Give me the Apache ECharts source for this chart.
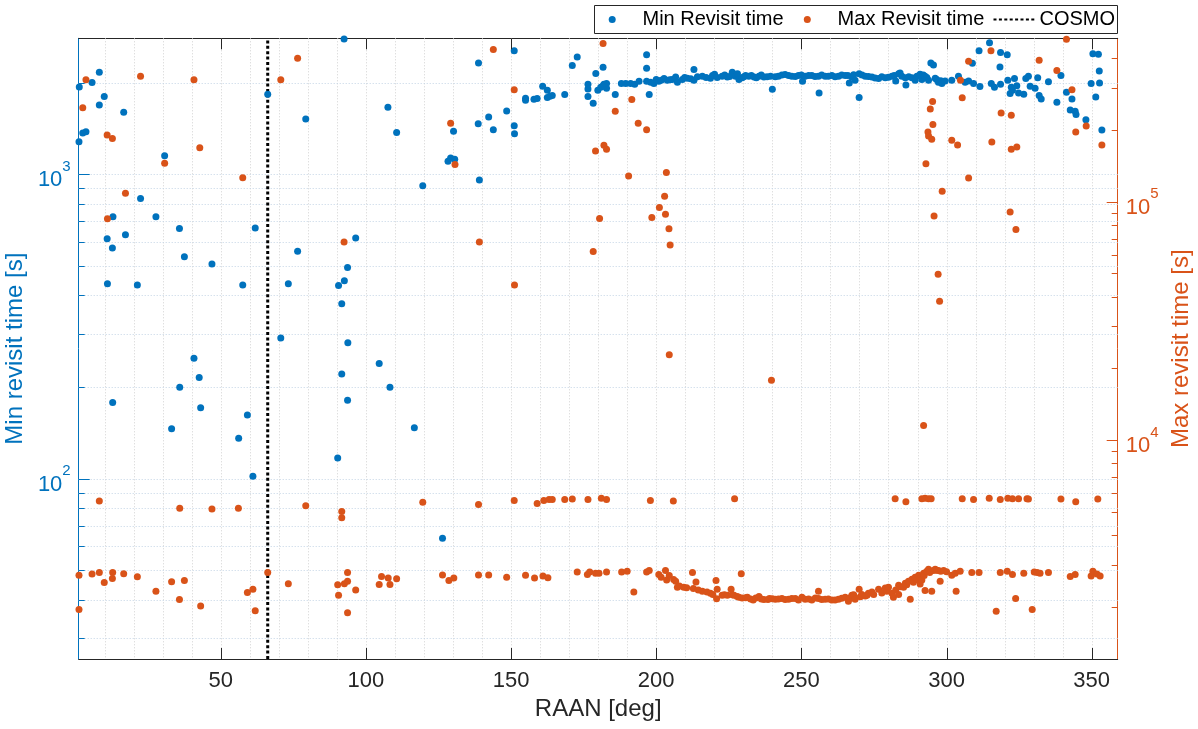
<!DOCTYPE html>
<html><head><meta charset="utf-8">
<script src="https://cdn.jsdelivr.net/npm/echarts@6/dist/echarts.min.js"></script>
<style>html,body{margin:0;padding:0;background:#fff}#c{width:1198px;height:729px}</style>
</head><body><div id="c"></div>
<script>
// ---- data (RAAN [deg], revisit time [s]) ----
const minRevisitPts = [
[1.3,1936],[1.2,1280],[2.5,1368],[3.6,1380],[5.7,2001],[8.2,2164],[8.2,1690],[9.9,1800],[10.9,614],[11.0,437],[12.7,573],[12.8,178],[12.9,725],[16.6,1600],[17.2,633],[21.3,433],[22.4,833],[27.7,725],[30.7,1151],[33.1,146],[35.8,664],[35.9,200],[37.5,536],[40.8,249],[42.6,215],[43.1,171],[47.0,508],[56.2,136],[57.6,433],[59.2,162],[61.1,102],[61.9,666],[66.2,1833],[70.7,290],[73.3,437],[76.5,559],[79.3,1520],[90.3,117],[90.6,431],[91.7,376],[91.7,221],[92.5,2780],[92.6,447],[93.7,494],[93.7,181],[93.8,280],[96.5,618],[104.6,239],[107.6,1659],[108.3,200],[110.6,1372],[116.7,147],[119.6,918],[126.4,63.8],[128.3,1104],[129.2,1131],[130.6,1120],[130.2,1384],[138.7,1466],[138.8,2321],[139.1,958],[142.3,1543],[143.9,1401],[148.5,1615],[151.1,2548],[151.1,1444],[151.2,1359],
[155.0,1779],[155.0,1752],[157.9,1763],[159.0,1774],[160.9,1947],[162.5,1889],[163.4,1805],[164.2,1816],[162.5,1789],[168.5,1827],[171.1,2279],[172.8,2428],[176.5,1977],[176.5,1906],[176.5,1800],[178.3,1710],[179.2,2145],[179.9,1889],[180.9,1930],[181.7,2245],[182.0,1977],[182.9,1989],[182.9,1918],[181.5,1947],[185.9,1827],[188.0,1989],[189.5,1989],[191.2,1989],[192.6,1977],[194.1,2020],[196.7,2020],[196.7,2472],[196.7,2231],[197.6,1827],[198.1,2008],[199.2,1989],[200.0,2050],[200.9,2020],[201.7,2038],[202.7,2062],[203.8,2038],[204.7,2045],[205.5,2050],[206.7,2087],[207.3,2008],[209.0,2050],[209.8,2080],[210.7,2068],[211.9,2060],[213.0,2211],[213.0,2038],[214.2,2090],[215.9,2100],[217.2,2080],[218.7,2068],[219.4,2110],[220.1,2132],[221.0,2081],[222.7,2100],[223.6,2120],[224.5,2088],[225.3,2095],[226.2,2164],[227.3,2100],[228.0,2140],[228.5,2050],[229.6,2075],[230.2,2090],[230.8,2113],[231.9,2100],[232.8,2110],[233.7,2088],[234.5,2075],[235.4,2100],[236.2,2120],[237.1,2088],[238.2,2090],[239.4,2100],[240.0,1901],
[241.0,2090],[242.1,2100],[243.3,2120],[244.4,2126],[245.6,2110],[246.7,2100],[247.9,2095],[249.0,2113],[250.0,2120],[250.4,2020],[251.3,2100],[252.5,2110],[253.6,2113],[254.7,2095],[255.9,2100],[256.1,1849],[257.0,2120],[258.2,2100],[259.3,2100],[260.5,2113],[261.6,2090],[262.8,2100],[263.9,2120],[265.1,2113],[266.0,2110],[266.5,1995],[267.4,2088],[268.0,2125],[268.5,2038],[269.9,2138],[269.9,1789],[270.9,2120],[272.0,2100],[273.1,2095],[274.3,2088],[275.4,2070],[276.6,2062],[277.7,2090],[278.9,2075],[280.0,2085],[281.2,2100],[282.0,2110],[282.5,2026],[283.5,2138],[284.0,2150],[284.6,2100],[285.8,2075],[286.0,1965],[287.0,2090],[288.1,2075],[289.2,2038],[289.8,2100],[290.9,2132],[291.5,2050],[292.0,2120],[292.6,2100],[293.2,2080],[293.8,2038],[294.6,2321],[295.5,2285],[296.1,2068],[296.6,2050],[297.2,2008],[298.0,2030],[298.4,1989],[299.5,2026],
[301.8,2038],[304.1,2100],[306.4,2008],[307.6,2026],[308.9,2314],[309.3,1989],[311.2,2548],[311.5,1942],[314.8,2707],[315.4,1989],[316.5,1930],[318.6,1977],[318.4,2251],[318.6,2510],[320.9,2472],[321.1,2038],[321.9,1844],[322.3,1930],[322.7,1889],[323.4,2062],[324.2,1953],[324.8,1849],[326.6,1833],[327.3,2062],[328.2,2100],[328.8,1947],[330.5,1918],[331.4,2075],[331.9,1816],[332.6,1768],[335.1,2013],[338.0,1726],[339.4,2113],[341.3,1861],[342.6,1625],[343.2,1768],[344.3,1610],[344.6,1572],[348.0,1511],[349.8,1989],[350.4,2488],[352.3,2478],[351.4,1795],[352.6,2184],[352.7,1995],[353.5,1397]
];
const maxRevisitPts = [
[3.6,324800],[22.4,336000],[40.8,324800],[76.5,400000],[70.7,324800],[2.5,248000],[10.9,190700],[12.7,184200],[42.8,168500],[30.7,145000],[57.6,126200],[17.2,108600],[11.0,84800],[92.5,67800],
[143.9,435300],[181.7,461000],[151.1,294800],[129.2,213300],[130.7,143300],[191.6,268800],[185.9,239400],[193.8,213300],[196.7,200500],[179.1,163400],[182.0,172500],[182.9,166000],[190.5,128200],[203.5,132700],[202.9,105300],[201.1,94500],[203.2,88500],[198.5,85800],[180.5,85100],[204.4,77000],[204.8,65800],[139.1,67800],[178.3,61800],[151.2,44700],[204.5,22800],[239.7,17800],
[341.3,480000],[315.3,430000],[307.6,389000],[331.9,392000],[338.0,355000],[304.8,323500],[343.2,294800],[305.4,273000],[318.8,235700],[322.3,230400],[295.2,263600],[294.4,245000],[295.3,210800],[293.6,195900],[293.8,188500],[294.9,182700],[301.8,181300],[303.8,173100],[315.6,177900],[322.3,166000],[324.2,169800],[344.5,195900],[348.1,207600],[353.5,173100],[292.9,144400],[307.6,125700],[298.5,110700],[295.7,87200],[321.9,90600],[323.9,76400],[297.1,49600],[297.6,38200],[292.1,11500],
[8.2,5546],[35.9,5173],[47.0,5134],[56.1,5173],[79.3,5295],[91.7,5016],[91.7,4718],[119.6,5482],[138.8,5356],[151.1,5567],[159.0,5418],[161.3,5567],[163.1,5632],[164.2,5632],[168.5,5632],[171.1,5654],[176.5,5632],[181.1,5697],[182.9,5632],[198.0,5567],[205.9,5546],[227.0,5675],[282.3,5675],[286.0,5504],[291.5,5675],[292.6,5697],[293.8,5675],[294.7,5675],[305.4,5675],[309.3,5632],[314.7,5697],[318.5,5632],[321.1,5697],[322.7,5675],[324.8,5675],[327.7,5675],[328.2,5654],[339.4,5654],[344.5,5504],[352.1,5654],
[1.2,2707],[5.7,2738],[8.2,2781],[12.8,2781],[16.6,2749],[9.9,2525],[12.7,2624],[21.3,2665],[27.7,2320],[33.1,2544],[37.5,2574],[35.8,2139],[43.1,2011],[59.2,2293],[61.1,2365],[61.9,1920],[66.2,2781],[73.3,2496],[90.3,2467],[92.6,2496],[93.7,2781],[93.7,2554],[96.5,2347],[90.6,2232],[93.7,1883],[105.4,2676],[107.7,2635],[110.6,2614],[104.6,2477],[108.3,2477],[1.2,1942],
[126.4,2716],[128.6,2574],[130.3,2635],[138.8,2716],[142.3,2716],[148.5,2655],[155.0,2707],[158.1,2635],[161.0,2686],[162.7,2645],[172.8,2791],[176.3,2726],[177.1,2791],[179.1,2760],[180.3,2760],[182.9,2791],[188.1,2791],[190.0,2813],[192.3,2301],[196.7,2791],[197.6,2835],[200.9,2726],[201.7,2655],[203.2,2835],[203.6,2584],[204.5,2700],[206.0,2600],[206.7,2554],[207.3,2411],[208.0,2440],[209.5,2411],[210.5,2400],[212.5,2781],[212.8,2383],[213.7,2535],[214.5,2350],[215.9,2320],[217.5,2300],[218.7,2276],[219.5,2250],[220.6,2574],[221.0,2365],[220.8,2155],[222.7,2232],[223.5,2240],[224.5,2232],[225.8,2365],[226.2,2240],[226.8,2232],[227.9,2206],[228.5,2190],[229.3,2749],[229.6,2172],[230.8,2180],[231.4,2189],[232.5,2150],[233.4,2130],[234.3,2170],[235.4,2206],[236.2,2150],[237.1,2139],[238.5,2140],[239.0,2160],[240.0,2155],
[241.0,2147],[242.1,2150],[243.3,2163],[244.4,2140],[245.6,2147],[246.7,2160],[247.9,2163],[249.0,2130],[250.2,2188],[251.3,2147],[252.5,2150],[253.6,2130],[254.8,2170],[255.9,2320],[255.9,2163],[257.0,2140],[258.2,2147],[259.3,2150],[260.5,2130],[261.6,2130],[262.8,2147],[263.9,2165],[265.1,2188],[266.2,2106],[266.8,2180],[267.4,2232],[268.0,2240],[268.5,2147],[269.9,2365],[270.3,2200],[270.8,2249],[272.0,2215],[272.6,2230],[273.1,2275],[274.3,2301],[274.9,2250],[276.6,2365],[277.7,2280],[278.9,2393],[279.4,2320],[280.0,2411],[281.2,2275],[281.7,2188],[282.5,2350],[283.5,2458],[283.5,2249],[284.0,2420],[285.2,2411],[285.8,2505],[286.3,2470],[286.9,2554],[287.5,2147],[288.1,2603],[288.6,2530],[289.2,2655],[289.8,2600],[290.4,2707],[290.9,2486],[291.0,2640],[291.5,2584],[292.1,2760],[292.3,2700],[292.6,2337],[293.2,2813],[293.8,2868],[294.2,2780],[294.9,2320],[295.5,2835],[296.1,2868],[296.6,2840],[297.2,2835],[297.8,2554],[298.0,2810],[299.0,2835],[300.0,2800],[301.8,2707],[303.0,2760],[303.3,2320],[304.7,2813],[308.7,2781],[311.2,2781],[317.1,1912],[318.5,2781],[320.9,2813],[322.7,2729],[323.8,2163],[326.6,2760],[329.5,1942],[330.2,2792],[331.2,2781],[332.2,2760],[335.1,2781],[342.6,2676],[344.3,2729],[349.8,2687],[350.4,2813],[351.8,2738],[352.9,2687]
];
const cosmoRaan = 66.2;
const xRange = [1.1, 358.95];
const leftRange = [25.6, 2797];
const rightRange = [1205, 485000];
const xTickValues = [50, 100, 150, 200, 250, 300, 350];
const xGridValues = [10,20,30,40,50,60,70,80,90,100,110,120,130,140,150,160,170,180,190,200,210,220,230,240,250,260,270,280,290,300,310,320,330,340,350];
const leftGridValues = [30,40,50,60,70,80,90,100,200,300,400,500,600,700,800,900,1000,2000];
const leftMajorTicks = [100, 1000];
const leftMinorTicks = [30,40,50,60,70,80,90,200,300,400,500,600,700,800,900,2000];
const rightMajorTicks = [10000, 100000];
const rightMinorTicks = [2000,3000,4000,5000,6000,7000,8000,9000,20000,30000,40000,50000,60000,70000,80000,90000,200000,300000,400000];

// ---- styles ----
const BLUE = '#0072BD', ORANGE = '#D95319', DARK = '#262626';
const FONT = 'Liberation Sans, Arial, Helvetica, sans-serif';

function pow10Label(v) {
  const e = Math.log10(v), r = Math.round(e);
  if (Math.abs(e - r) > 1e-6) return '';
  return '{b|10}{s|' + r + '}';
}
function richFor(color) {
  return {
    b: {fontSize: 22, color: color, fontFamily: FONT, verticalAlign: 'bottom', padding: [12, 0, 0, 0]},
    s: {fontSize: 15, color: color, fontFamily: FONT, verticalAlign: 'bottom', padding: [0, 0, 17, 0]}
  };
}
const px = v => Math.round(v) + 0.5;
const legendText = {fontSize: 20, color: '#000', fontFamily: FONT};
const legendTextShift = {fontSize: 20, color: '#000', fontFamily: FONT, padding: [0, 0, 0, 7]};

const chart = echarts.init(document.getElementById('c'), null, {renderer: 'canvas'});
chart.setOption({
  animation: false,
  backgroundColor: '#fff',
  textStyle: {fontFamily: FONT},
  grid: {left: 78.7, right: 80.3, top: 38.3, bottom: 70, containLabel: false, outerBoundsMode: 'none'},
  graphic: [{
    type: 'rect', z: 3, silent: true,
    shape: {x: 594.5, y: 5.5, width: 523, height: 28},
    style: {fill: '#fff', stroke: DARK, lineWidth: 1}
  }],
  legend: [{
    data: ['Min Revisit time'], left: 608.7, top: 9.5, padding: 0,
    itemWidth: 36.6, itemHeight: 7, textStyle: legendTextShift, z: 10
  }, {
    data: ['Max Revisit time'], left: 803.8, top: 9.5, padding: 0,
    itemWidth: 36.6, itemHeight: 7, textStyle: legendTextShift, z: 10
  }, {
    data: ['COSMO'], left: 992.5, top: 9.5, padding: 0,
    itemWidth: 41, itemHeight: 7, textStyle: legendText, z: 10,
    itemStyle: {opacity: 0}
  }],
  xAxis: [{
    type: 'value', position: 'bottom', min: xRange[0], max: xRange[1], splitNumber: 7,
    axisLine: {show: true, lineStyle: {color: DARK, width: 1}},
    axisTick: {show: false}, splitLine: {show: false},
    axisLabel: {fontSize: 22, color: DARK, margin: 11, showMinLabel: false, showMaxLabel: false,
      formatter: v => (Math.abs(v % 50) < 1e-6 ? String(v) : '')},
    name: 'RAAN [deg]', nameLocation: 'middle', nameGap: 38,
    nameTextStyle: {fontSize: 24, color: DARK}
  }, {
    type: 'value', position: 'top', min: xRange[0], max: xRange[1],
    axisLine: {show: true, lineStyle: {color: DARK, width: 1}},
    axisTick: {show: false}, splitLine: {show: false}, axisLabel: {show: false}
  }],
  yAxis: [{
    type: 'log', logBase: 10, position: 'left', min: leftRange[0], max: leftRange[1],
    axisLine: {show: true, lineStyle: {color: BLUE, width: 1}},
    axisTick: {show: false}, splitLine: {show: false}, minorTick: {show: false},
    axisLabel: {formatter: pow10Label, rich: richFor(BLUE), margin: 8, showMinLabel: false, showMaxLabel: false},
    name: 'Min revisit time [s]', nameLocation: 'middle', nameGap: 46, nameRotate: 90,
    nameTextStyle: {fontSize: 24, color: BLUE}
  }, {
    type: 'log', logBase: 10, position: 'right', min: rightRange[0], max: rightRange[1],
    axisLine: {show: true, lineStyle: {color: ORANGE, width: 1}},
    axisTick: {show: false}, splitLine: {show: false}, minorTick: {show: false},
    axisLabel: {formatter: pow10Label, rich: richFor(ORANGE), margin: 8, showMinLabel: false, showMaxLabel: false},
    name: 'Max revisit time [s]', nameLocation: 'middle', nameGap: 48, nameRotate: 90,
    nameTextStyle: {fontSize: 24, color: ORANGE}
  }],
  series: [
    { // vertical grid lines
      type: 'custom', xAxisIndex: 0, yAxisIndex: 0, silent: true, z: 1,
      data: xGridValues.map(v => [v, leftRange[0]]),
      renderItem: (params, api) => {
        const cs = params.coordSys;
        const x = px(api.coord([api.value(0), api.value(1)])[0]);
        return {type: 'line', shape: {x1: x, y1: cs.y, x2: x, y2: cs.y + cs.height},
          style: {stroke: '#d2d2d2', lineWidth: 1, lineDash: [1, 2]}};
      }
    },
    { // horizontal grid lines (left axis)
      type: 'custom', xAxisIndex: 0, yAxisIndex: 0, silent: true, z: 1,
      data: leftGridValues.map(v => [xRange[0], v]),
      renderItem: (params, api) => {
        const cs = params.coordSys;
        const y = px(api.coord([api.value(0), api.value(1)])[1]);
        return {type: 'line', shape: {x1: cs.x, y1: y, x2: cs.x + cs.width, y2: y},
          style: {stroke: '#c3d4e5', lineWidth: 1, lineDash: [1, 2]}};
      }
    },
    { // x ticks bottom & top (inside)
      type: 'custom', xAxisIndex: 0, yAxisIndex: 0, silent: true, z: 6,
      data: xTickValues.map(v => [v, leftRange[0]]),
      renderItem: (params, api) => {
        const cs = params.coordSys;
        const x = px(api.coord([api.value(0), api.value(1)])[0]);
        const b = cs.y + cs.height, t = cs.y;
        return {type: 'group', children: [
          {type: 'line', shape: {x1: x, y1: b, x2: x, y2: b - 11}, style: {stroke: DARK, lineWidth: 1}},
          {type: 'line', shape: {x1: x, y1: t, x2: x, y2: t + 11}, style: {stroke: DARK, lineWidth: 1}}
        ]};
      }
    },
    { // left axis ticks
      type: 'custom', xAxisIndex: 0, yAxisIndex: 0, silent: true, z: 6,
      data: leftMajorTicks.map(v => [xRange[0], v, 11]).concat(leftMinorTicks.map(v => [xRange[0], v, 6])),
      renderItem: (params, api) => {
        const cs = params.coordSys;
        const y = px(api.coord([api.value(0), api.value(1)])[1]);
        return {type: 'line', shape: {x1: cs.x, y1: y, x2: cs.x + api.value(2), y2: y},
          style: {stroke: BLUE, lineWidth: 1}};
      }
    },
    { // right axis ticks
      type: 'custom', xAxisIndex: 0, yAxisIndex: 1, silent: true, z: 6,
      data: rightMajorTicks.map(v => [xRange[1], v, 11]).concat(rightMinorTicks.map(v => [xRange[1], v, 6])),
      renderItem: (params, api) => {
        const cs = params.coordSys;
        const y = px(api.coord([api.value(0), api.value(1)])[1]);
        const r = cs.x + cs.width;
        return {type: 'line', shape: {x1: r, y1: y, x2: r - api.value(2), y2: y},
          style: {stroke: ORANGE, lineWidth: 1}};
      }
    },
    {
      name: 'COSMO', type: 'line', xAxisIndex: 0, yAxisIndex: 0, z: 3,
      data: [[cosmoRaan, leftRange[0]], [cosmoRaan, leftRange[1]]],
      symbol: 'none', lineStyle: {color: '#000', width: 3, type: [3, 2.4]},
      itemStyle: {color: '#000'}
    },
    {
      name: 'Min Revisit time', type: 'scatter', xAxisIndex: 0, yAxisIndex: 0, z: 4,
      data: minRevisitPts, symbolSize: 7, clip: false,
      itemStyle: {color: BLUE, opacity: 1}
    },
    {
      name: 'Max Revisit time', type: 'scatter', xAxisIndex: 0, yAxisIndex: 1, z: 5,
      data: maxRevisitPts, symbolSize: 7, clip: false,
      itemStyle: {color: ORANGE, opacity: 1}
    }
  ]
});
</script>
</body></html>
